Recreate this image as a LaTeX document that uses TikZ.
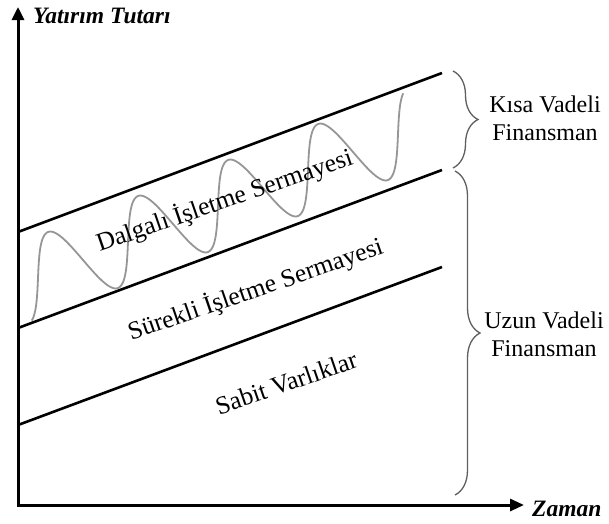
\documentclass[tikz,border=0pt]{standalone}
\usepackage{fontspec}
\setmainfont{Liberation Serif}
\usetikzlibrary{arrows.meta,decorations.pathreplacing}
\definecolor{wavegray}{RGB}{150,150,150}
\definecolor{bracegray}{RGB}{95,95,95}
\begin{document}
\begin{tikzpicture}[x=1pt,y=-1pt,
  axis/.style={line width=3pt, line join=miter, {Triangle[length=13pt,width=12pt]}-{Triangle[length=14pt,width=12pt]}},
  bandline/.style={line width=2.6pt},
  wave/.style={line width=1.8pt, draw=wavegray},
  curly/.style={decorate, decoration={brace, amplitude=25pt, aspect=0.5}, line width=1.3pt, draw=bracegray},
  lbl/.style={font=\fontsize{24}{28}\selectfont, inner sep=0pt},
  rlbl/.style={font=\fontsize{25.5}{30}\selectfont, inner sep=0pt, anchor=base, rotate=19},
  ilbl/.style={font=\fontsize{23.5}{28}\selectfont\bfseries\itshape, inner sep=0pt, anchor=base west}]
\useasboundingbox (0,0) rectangle (609,523);
% axes
\coordinate (O) at (18,505);
\coordinate (ytop) at (18,7);
\coordinate (xend) at (524,505);
\draw[axis] (ytop) -- (O) -- (xend);
% band lines
\coordinate (t1) at (18,232); \coordinate (t2) at (442,73);
\coordinate (m1) at (18,328); \coordinate (m2) at (442,170);
\coordinate (b1) at (18,425); \coordinate (b2) at (442,267);
\draw[bandline] (t1) -- (t2);
\draw[bandline] (m1) -- (m2);
\draw[bandline] (b1) -- (b2);
% wave
\draw[wave] plot[domain=-2.84:24.73, samples=400, variable=\t]
  ({60.5+14.324*\t-12.5*cos(\t r)}, {269-5.7296*\t-37*cos(\t r)});
% braces
\coordinate (ka) at (453,71); \coordinate (kb) at (453,168);
\coordinate (ua) at (455,171); \coordinate (ub) at (455,495);
\draw[curly] (ka) -- (kb);
\draw[curly] (ua) -- (ub);
% labels
\node[lbl, align=center] (kvf) at (545,118) {Kısa Vadeli\\Finansman};
\node[lbl, align=center] (uvf) at (544,334) {Uzun Vadeli\\Finansman};
\node[ilbl] (yt) at (33,23) {Yatırım Tutarı};
\node[ilbl] (zm) at (532,516) {Zaman};
\node[rlbl] (dis) at (227,208) {Dalgalı İşletme Sermayesi};
\node[rlbl] (sis) at (258,297) {Sürekli İşletme Sermayesi};
\node[rlbl] (sv) at (289,391) {Sabit Varlıklar};
\end{tikzpicture}
\end{document}
